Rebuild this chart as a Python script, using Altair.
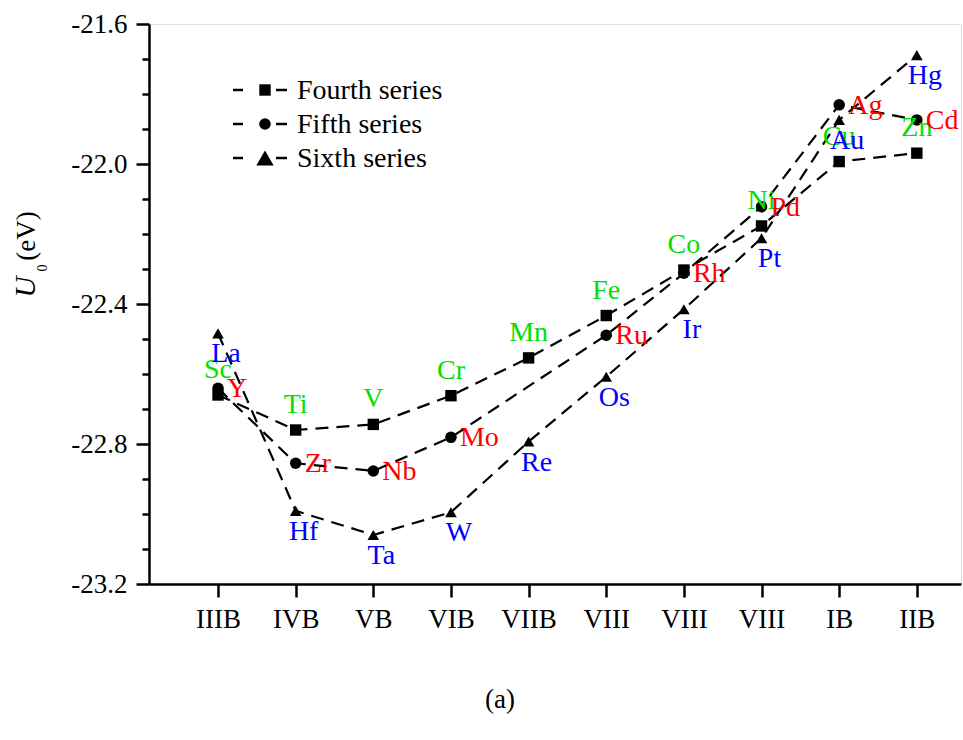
import altair as alt
import pandas as pd

# ---- data ----
groups = ["IIIB", "IVB", "VB", "VIB", "VIIB", "VIII", "VIII", "VIII", "IB", "IIB"]
group_pos = [0, 1, 2, 3, 4, 5, 6, 7, 8, 9]

fourth_el = ["Sc", "Ti", "V", "Cr", "Mn", "Fe", "Co", "Ni", "Cu", "Zn"]
fourth_pos = [0, 1, 2, 3, 4, 5, 6, 7, 8, 9]
fourth_val = [-22.660, -22.760, -22.744, -22.662, -22.554, -22.433, -22.303, -22.177, -21.993, -21.969]

fifth_el = ["Y", "Zr", "Nb", "Mo", "Ru", "Rh", "Pd", "Ag", "Cd"]
fifth_pos = [0, 1, 2, 3, 5, 6, 7, 8, 9]
fifth_val = [-22.641, -22.855, -22.877, -22.781, -22.489, -22.312, -22.122, -21.831, -21.874]

sixth_el = ["La", "Hf", "Ta", "W", "Re", "Os", "Ir", "Pt", "Au", "Hg"]
sixth_pos = [0, 1, 2, 3, 4, 5, 6, 7, 8, 9]
sixth_val = [-22.484, -22.991, -23.060, -22.995, -22.793, -22.608, -22.415, -22.212, -21.874, -21.689]

series_names = ["Fourth series", "Fifth series", "Sixth series"]
series_shapes = ["square", "circle", "triangle-up"]
series_sizes = [130, 135, 300]
label_colors = ["#00e000", "#ff0000", "#0000ff"]

y_ticks = [-23.2, -23.1, -23.0, -22.9, -22.8, -22.7, -22.6, -22.5, -22.4,
           -22.3, -22.2, -22.1, -22.0, -21.9, -21.8, -21.7, -21.6]

FONT = "Liberation Serif"
FS = 27
LFS = 28

rows = []
for name, els, pos, vals in [
    (series_names[0], fourth_el, fourth_pos, fourth_val),
    (series_names[1], fifth_el, fifth_pos, fifth_val),
    (series_names[2], sixth_el, sixth_pos, sixth_val),
]:
    for e, p, v in zip(els, pos, vals):
        rows.append({"series": name, "el": e, "pos": p, "value": v})
df = pd.DataFrame(rows)

label_expr_x = "[" + ",".join("'" + g + "'" for g in groups) + "][datum.value]"
major_test = "round(datum.value*10) % 4 == 0"

x_enc = alt.X(
    "pos:Q",
    scale=alt.Scale(domain=[-0.889, 9.569], nice=False, zero=False),
    axis=alt.Axis(values=group_pos, labelExpr=label_expr_x, title=None, grid=False,
                  tickSize=13, tickWidth=2.5, domainWidth=2.5, domainColor="black",
                  tickColor="black", labelFont=FONT, labelFontSize=FS, labelColor="black",
                  labelPadding=9, labelAngle=0),
)
y_enc = alt.Y(
    "value:Q",
    scale=alt.Scale(domain=[-23.2, -21.6], nice=False, zero=False),
    axis=alt.Axis(values=y_ticks,
                  labelExpr=major_test + " ? replace(format(datum.value, '.1f'), '\u2212', '-') : ''",
                  tickSize={"condition": {"test": major_test, "value": 13}, "value": 7},
                  title=None, grid=False, tickWidth=2.5, domainWidth=2.5,
                  domainColor="black", tickColor="black", labelFont=FONT,
                  labelFontSize=FS, labelColor="black", labelPadding=9),
)

base = alt.Chart(df)

lines = base.mark_line(color="black", strokeWidth=2.2, strokeDash=[13, 8]).encode(
    x=x_enc, y=y_enc, detail="series:N"
)

points = base.mark_point(filled=True, color="black", opacity=1).encode(
    x=x_enc, y=y_enc,
    shape=alt.Shape("series:N", scale=alt.Scale(domain=series_names, range=series_shapes), legend=None),
    size=alt.Size("series:N", scale=alt.Scale(domain=series_names, range=series_sizes), legend=None),
)

lab_fourth = base.transform_filter(alt.datum.series == series_names[0]).mark_text(
    font=FONT, fontSize=LFS, color=label_colors[0], align="center", baseline="middle", dy=-25
).encode(x=x_enc, y=y_enc, text="el:N")

lab_fifth = base.transform_filter(alt.datum.series == series_names[1]).mark_text(
    font=FONT, fontSize=LFS, color=label_colors[1], align="left", baseline="middle", dx=9, dy=1
).encode(x=x_enc, y=y_enc, text="el:N")

lab_sixth = base.transform_filter(alt.datum.series == series_names[2]).mark_text(
    font=FONT, fontSize=LFS, color=label_colors[2], align="center", baseline="middle", dx=8, dy=21
).encode(x=x_enc, y=y_enc, text="el:N")

layers = [lines, points, lab_fourth, lab_fifth, lab_sixth]

# ---- custom legend ----
legend_df = pd.DataFrame({"series": series_names})
legend_rows_y = [66, 100, 134]
for i, name in enumerate(series_names):
    ld = alt.Chart(legend_df).transform_filter(alt.datum.series == name)
    ry = legend_rows_y[i]
    layers.append(ld.mark_rule(color="black", strokeWidth=2.5).encode(
        x=alt.value(84), x2=alt.value(94), y=alt.value(ry)))
    layers.append(ld.mark_rule(color="black", strokeWidth=2.5).encode(
        x=alt.value(127), x2=alt.value(138), y=alt.value(ry)))
    layers.append(ld.mark_point(shape=series_shapes[i], filled=True, color="black", opacity=1,
                                size=series_sizes[i]).encode(x=alt.value(116), y=alt.value(ry)))
    layers.append(ld.mark_text(font=FONT, fontSize=LFS, color="black", align="left",
                               baseline="middle").encode(x=alt.value(148), y=alt.value(ry + 1),
                                                         text="series:N"))

# ---- y title U0 (eV) and caption ----
one = alt.Chart(pd.DataFrame({"k": [0]}))
layers.append(one.mark_text(text="U", font=FONT, fontSize=29, fontStyle="italic", angle=270,
                            align="center", baseline="alphabetic", color="black")
              .encode(x=alt.value(-114), y=alt.value(263)))
layers.append(one.mark_text(text="0", font=FONT, fontSize=14, angle=270,
                            align="center", baseline="alphabetic", color="black")
              .encode(x=alt.value(-102), y=alt.value(244)))
layers.append(one.mark_text(text="(eV)", font=FONT, fontSize=FS, angle=270,
                            align="center", baseline="alphabetic", color="black")
              .encode(x=alt.value(-114), y=alt.value(212)))
layers.append(one.mark_text(text="(a)", font=FONT, fontSize=FS, align="center",
                            baseline="middle", color="black")
              .encode(x=alt.value(351), y=alt.value(676)))

chart = alt.layer(*layers).properties(
    width=812, height=560,
    autosize=alt.AutoSizeParams(type="none"),
    padding={"left": 149, "top": 24, "right": 2, "bottom": 156},
).configure_view(stroke="black", strokeWidth=2.5).configure(background="white")

chart.save("out.html", embed_options={"renderer": "svg", "actions": False})
